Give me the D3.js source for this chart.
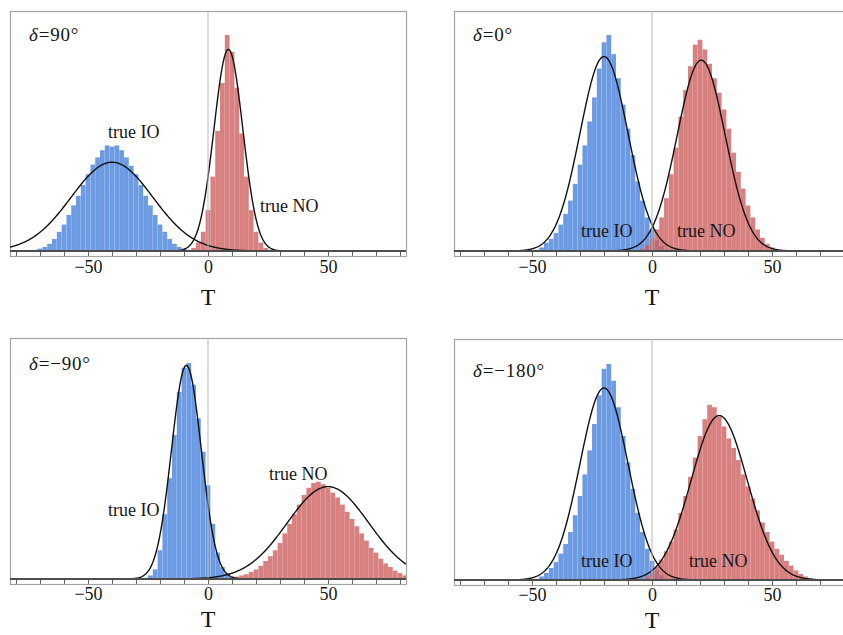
<!DOCTYPE html>
<html><head><meta charset="utf-8">
<script src="https://cdn.jsdelivr.net/npm/d3@7"></script>
<style>
body{margin:0;background:#fff}
svg{display:block}
text{font-family:"Liberation Serif","Times New Roman",serif;fill:#161616}
</style>
</head><body><svg id="c" width="843" height="635"></svg>
<script>
// ---------------- data ----------------
const binWidth = 2;
const xDomain = [-82.5, 82.5];
const yDomain = [0, 100];
const xTicksMajor = [-50, 0, 50];
const xTicksMinor = [-80, -70, -60, -40, -30, -20, -10, 10, 20, 30, 40, 60, 70, 80];
const axisTitle = "T";
const deltaValues = ["90°", "0°", "−90°", "−180°"];
const labelIO = "true IO";
const labelNO = "true NO";

// histogram heights (% of plot height), first bin centre given by *Start
const io90Start = -74;
const io90 = [0.2,0.5,1,1.7,3,5,8,11,15,19,23,27.5,32,36,39,42,44,43.5,44,42,39,35.5,32,27.5,23,19,15,11,8,5,3,1.7,1,0.5,0.2];
const no90Start = -8;
const no90 = [0.4,1.3,3.5,8,17,31,50,70,90,83,68,49,31,17,8,3.5,1.3,0.4];

const io0Start = -48;
const io0 = [0.5,1.5,3.5,5,7.5,11,15.5,21,28,36,44,54,64,76,87,90,82,72,61,51,40,29,21,14,9,4.5,2,0.7];
const no0Start = -6;
const no0 = [0.4,1,2.5,5,9,14,22,32,43,56,67,77,86,88,84,78,72,66,59,51,41,33,26,19,14,9,5.5,3,1.5,0.5];

const ioM90Start = -26;
const ioM90 = [0.5,1.5,4,12,27,42,60,78,88,90,81,67,53,39,23,11,5,2.5,1,0.3];
const noM90Start = 10;
const noM90 = [0.5,1,1.5,2,3,4,5.5,7.5,9.5,12,15,19,23,27,31,35,38,40,40.5,39.5,38,36,34,31,28,25,22,19,16,13,11,8.5,6.5,5,3.5,2.5,1.5];

const ioM180Start = -48;
const ioM180 = [0.5,1.5,3,5,7.5,11,15,20,27,35,44,54,65,77,88,90,83,72,60,49,38,28,20,13,8,4,2,0.7];
const noM180Start = -2;
const noM180 = [1.5,3,5.5,8.5,12,16,21,28,35,43,51,60,67,73,72,68,64,59,55,50,44,39,34,29,24,20,16,13,10.5,8,6,4,2.5,1.5,0.8,0.3];

// fitted Gaussian curves (per panel)
const curveIOMean  = [-40, -20, -9, -20];
const curveIOSigma = [17, 10, 6.2, 10];
const curveIOPeak  = [37, 81, 89, 80];
const curveNOMean  = [8.5, 20.5, 50, 28];
const curveNOSigma = [6, 10, 17, 11.7];
const curveNOPeak  = [84, 79.5, 38.5, 68.5];

const histIO = [[io90Start, io90], [io0Start, io0], [ioM90Start, ioM90], [ioM180Start, ioM180]];
const histNO = [[no90Start, no90], [no0Start, no0], [noM90Start, noM90], [noM180Start, noM180]];

// ---------------- layout ----------------
const W = 396, H = 240;
const layout = [
  {left:10,  top:11,  axisY:251, fb:256, tickBase:273, tBase:305, title:[29,41],  io:[108,138], no:[260,212]},
  {left:454, top:11,  axisY:251, fb:256, tickBase:273, tBase:305, title:[473,41], io:[581,237], no:[677,237]},
  {left:10,  top:338, axisY:579, fb:584, tickBase:600, tBase:627, title:[29,370], io:[108,516], no:[269,480]},
  {left:454, top:339, axisY:580, fb:585, tickBase:601, tBase:628, title:[473,377], io:[581,567], no:[689,567]}
];
const blue = "#6d9be3";
const red = "rgb(206,96,96)";

const svg = d3.select("#c");
const defs = svg.append("defs");

layout.forEach((L, i) => {
  const x = d3.scaleLinear().domain(xDomain).range([L.left, L.left + W]);
  const y = d3.scaleLinear().domain(yDomain).range([L.axisY, L.axisY - H]);
  const g = svg.append("g");
  const clipId = "clip" + i;
  defs.append("clipPath").attr("id", clipId).append("rect")
    .attr("x", L.left).attr("y", L.top).attr("width", W).attr("height", L.axisY - L.top + 1);

  // frame
  g.append("rect").attr("x", L.left + 0.5).attr("y", L.top + 0.5)
    .attr("width", W).attr("height", L.fb - L.top)
    .attr("fill", "none").attr("stroke", "#a3a3a3").attr("stroke-width", 1.2);

  const plot = g.append("g").attr("clip-path", `url(#${clipId})`);

  const drawHist = (start, vals, fill, op) => {
    const bins = vals.map((v, k) => ({c: start + k * binWidth, v}));
    plot.append("g").selectAll("rect").data(bins).join("rect")
      .attr("x", d => x(d.c - binWidth / 2))
      .attr("width", d => x(d.c + binWidth / 2) - x(d.c - binWidth / 2))
      .attr("y", d => y(d.v))
      .attr("height", d => y(0) - y(d.v))
      .attr("fill", fill).attr("fill-opacity", op)
      .attr("stroke", "#ffffff").attr("stroke-opacity", 0.12).attr("stroke-width", 0.5);
  };
  drawHist(histIO[i][0], histIO[i][1], blue, 1);
  drawHist(histNO[i][0], histNO[i][1], red, 0.8);

  // zero line
  g.append("line").attr("x1", x(0)).attr("x2", x(0)).attr("y1", L.top).attr("y2", L.axisY)
    .attr("stroke", "#b9b9b9").attr("stroke-width", 1);

  // axis line
  g.append("line").attr("x1", L.left).attr("x2", L.left + W).attr("y1", L.axisY).attr("y2", L.axisY)
    .attr("stroke", "#4d4d4d").attr("stroke-width", 1.8);

  // curves
  const xs = d3.range(xDomain[0], xDomain[1] + 0.01, 0.25);
  const line = d3.line().x(d => x(d[0])).y(d => y(d[1]));
  const gauss = (m, s, p) => xs.map(t => [t, p * Math.exp(-0.5 * ((t - m) / s) ** 2)]);
  plot.append("path").attr("d", line(gauss(curveIOMean[i], curveIOSigma[i], curveIOPeak[i])))
    .attr("fill", "none").attr("stroke", "#111").attr("stroke-width", 1.4);
  plot.append("path").attr("d", line(gauss(curveNOMean[i], curveNOSigma[i], curveNOPeak[i])))
    .attr("fill", "none").attr("stroke", "#111").attr("stroke-width", 1.4);

  // ticks (pointing up from frame bottom)
  const tickMinor = d3.axisTop(x).tickValues(xTicksMinor).tickSize(4).tickFormat("");
  const tickMajor = d3.axisTop(x).tickValues(xTicksMajor).tickSize(6).tickFormat("");
  [tickMinor, tickMajor].forEach(ax => {
    const ga = g.append("g").attr("transform", `translate(0,${L.fb})`).call(ax);
    ga.select(".domain").remove();
    ga.selectAll("line").attr("stroke", "#555").attr("stroke-width", 0.9);
  });
  // tick labels
  const lab = d3.axisBottom(x).tickValues(xTicksMajor).tickSize(0)
    .tickFormat(d => d < 0 ? "−" + Math.abs(d) : String(d));
  const gl = g.append("g").attr("transform", `translate(0,${L.tickBase})`).call(lab);
  gl.select(".domain").remove();
  gl.selectAll("text").attr("y", 0).attr("dy", null)
    .attr("font-size", 18).attr("font-family", "Liberation Serif").attr("fill", "#161616");

  // axis title
  g.append("text").attr("x", x(0)).attr("y", L.tBase).attr("text-anchor", "middle")
    .attr("font-size", 24).text(axisTitle);

  // panel title
  const tt = g.append("text").attr("x", L.title[0]).attr("y", L.title[1])
    .attr("font-size", 19).attr("letter-spacing", 0.8);
  tt.append("tspan").attr("font-style", "italic").text("δ");
  tt.append("tspan").text("=" + deltaValues[i]);

  // labels
  g.append("text").attr("x", L.io[0]).attr("y", L.io[1]).attr("font-size", 18).text(labelIO);
  g.append("text").attr("x", L.no[0]).attr("y", L.no[1]).attr("font-size", 18).text(labelNO);
});
</script>
</body></html>
